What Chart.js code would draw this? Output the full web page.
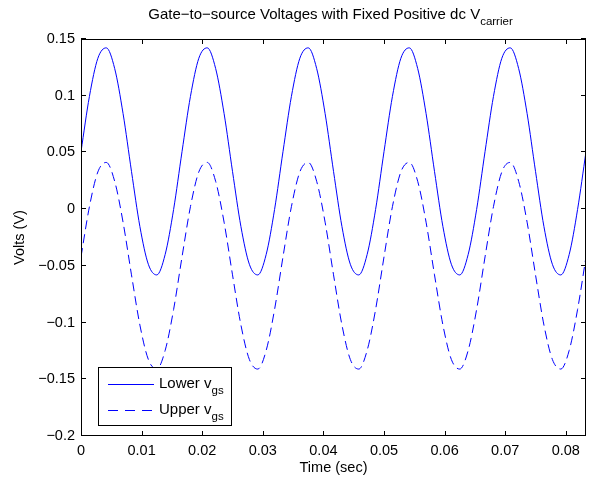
<!DOCTYPE html>
<html>
<head>
<meta charset="utf-8">
<script src="https://cdn.jsdelivr.net/npm/chart.js@4/dist/chart.umd.min.js"></script>
<style>
html,body{margin:0;padding:0;background:#fff;}
#c{display:block;}
</style>
</head>
<body>
<canvas id="c" width="592" height="479"></canvas>
<script>
// Time samples (sec)
const times = [0, 0.00139, 0.00278, 0.00417, 0.00556, 0.00694, 0.00833, 0.00972, 0.01111, 0.0125, 0.01389, 0.01528,
  0.01667, 0.01806, 0.01944, 0.02083, 0.02222, 0.02361, 0.025, 0.02639, 0.02778, 0.02917, 0.03056, 0.03194,
  0.03333, 0.03472, 0.03611, 0.0375, 0.03889, 0.04028, 0.04167, 0.04306, 0.04444, 0.04583, 0.04722, 0.04861,
  0.05, 0.05139, 0.05278, 0.05417, 0.05556, 0.05694, 0.05833, 0.05972, 0.06111, 0.0625, 0.06389, 0.06528,
  0.06667, 0.06806, 0.06944, 0.07083, 0.07222, 0.07361, 0.075, 0.07639, 0.07778, 0.07917, 0.08056, 0.08194,
  0.08333];
// Lower v_gs (V)
const lowerVgs = [0.0507, 0.0994, 0.1330, 0.1422, 0.1239, 0.0843, 0.0333, -0.0154, -0.0486, -0.0580, -0.0399, -0.0003,
  0.0507, 0.0994, 0.1330, 0.1422, 0.1239, 0.0843, 0.0333, -0.0154, -0.0486, -0.0580, -0.0399, -0.0003,
  0.0507, 0.0994, 0.1330, 0.1422, 0.1239, 0.0843, 0.0333, -0.0154, -0.0486, -0.0580, -0.0399, -0.0003,
  0.0507, 0.0994, 0.1330, 0.1422, 0.1239, 0.0843, 0.0333, -0.0154, -0.0486, -0.0580, -0.0399, -0.0003,
  0.0507, 0.0994, 0.1330, 0.1422, 0.1239, 0.0843, 0.0333, -0.0154, -0.0486, -0.0580, -0.0399, -0.0003,
  0.0507];
// Upper v_gs (V)
const upperVgs = [-0.0421, 0.0022, 0.0328, 0.0412, 0.0245, -0.0115, -0.0579, -0.1022, -0.1325, -0.1410, -0.1245, -0.0885,
  -0.0421, 0.0022, 0.0328, 0.0412, 0.0245, -0.0115, -0.0579, -0.1022, -0.1325, -0.1410, -0.1245, -0.0885,
  -0.0421, 0.0022, 0.0328, 0.0412, 0.0245, -0.0115, -0.0579, -0.1022, -0.1325, -0.1410, -0.1245, -0.0885,
  -0.0421, 0.0022, 0.0328, 0.0412, 0.0245, -0.0115, -0.0579, -0.1022, -0.1325, -0.1410, -0.1245, -0.0885,
  -0.0421, 0.0022, 0.0328, 0.0412, 0.0245, -0.0115, -0.0579, -0.1022, -0.1325, -0.1410, -0.1245, -0.0885,
  -0.0421];
// Axis limits / ticks
const xLimits = [0, 0.08333];
const xStep = 0.01;
const yLimits = [-0.2, 0.15];
const yStep = 0.05;
const seriesNames = ['Lower', 'Upper'];

const FONT = '"Liberation Sans", Arial, Helvetica, sans-serif';
const BLUE = '#0000ff';
const DASH = [9, 5];

function fmt(v) {
  let s = parseFloat(v.toFixed(3)).toString();
  return s.replace('-', '\u2212');
}

const decor = {
  id: 'decor',
  beforeDraw(chart) {
    const ctx = chart.ctx;
    ctx.save();
    ctx.fillStyle = '#fff';
    ctx.fillRect(0, 0, chart.width, chart.height);
    ctx.restore();
  },
  afterDraw(chart) {
    const ctx = chart.ctx;
    const a = chart.chartArea;
    const xs = chart.scales.x, ys = chart.scales.y;
    ctx.save();
    // frame
    ctx.strokeStyle = '#000';
    ctx.lineWidth = 1;
    ctx.strokeRect(Math.round(a.left) + 0.5, Math.round(a.top) + 0.5, Math.round(a.right - a.left) - 1, Math.round(a.bottom - a.top) - 1);
    // inward ticks
    const TL = 5;
    ctx.beginPath();
    xs.ticks.forEach(t => {
      const px = Math.round(xs.getPixelForValue(t.value)) + 0.5;
      ctx.moveTo(px, a.bottom); ctx.lineTo(px, a.bottom - TL);
      ctx.moveTo(px, a.top); ctx.lineTo(px, a.top + TL);
    });
    ys.ticks.forEach(t => {
      const py = Math.round(ys.getPixelForValue(t.value)) - 0.5;
      ctx.moveTo(a.left, py); ctx.lineTo(a.left + TL, py);
      ctx.moveTo(a.right, py); ctx.lineTo(a.right - TL, py);
    });
    ctx.stroke();

    ctx.fillStyle = '#000';
    // title with subscript
    const mainT = 'Gate\u2212to\u2212source Voltages with Fixed Positive dc V';
    const subT = 'carrier';
    ctx.font = '15px ' + FONT;
    const w1 = ctx.measureText(mainT).width;
    ctx.font = '11.5px ' + FONT;
    const w2 = ctx.measureText(subT).width;
    const cx = (a.left + a.right) / 2;
    let sx = cx - (w1 + w2) / 2 - 3;
    ctx.textBaseline = 'alphabetic';
    ctx.textAlign = 'left';
    ctx.font = '15px ' + FONT;
    ctx.fillText(mainT, sx, 19);
    ctx.font = '11.5px ' + FONT;
    ctx.fillText(subT, sx + w1, 25);

    // axis titles
    ctx.font = '14.5px ' + FONT;
    ctx.textAlign = 'center';
    ctx.fillText('Time (sec)', cx, 472);
    ctx.save();
    ctx.translate(24, (a.top + a.bottom) / 2);
    ctx.rotate(-Math.PI / 2);
    ctx.fillText('Volts (V)', 0, 0);
    ctx.restore();

    // legend
    const lx = 98.5, ly = 367.5, lw = 133, lh = 58;
    ctx.fillStyle = '#fff';
    ctx.fillRect(lx, ly, lw, lh);
    ctx.strokeStyle = '#000';
    ctx.lineWidth = 1;
    ctx.strokeRect(lx, ly, lw, lh);
    const ds = chart.data.datasets;
    const rows = [384.5, 410.5];
    ds.forEach((d, i) => {
      ctx.strokeStyle = d.borderColor;
      ctx.lineWidth = 1;
      ctx.setLineDash(d.borderDash ? [10, 7] : []);
      ctx.beginPath();
      ctx.moveTo(108, rows[i]);
      ctx.lineTo(154, rows[i]);
      ctx.stroke();
      ctx.setLineDash([]);
      ctx.fillStyle = '#000';
      ctx.textAlign = 'left';
      ctx.font = '15px ' + FONT;
      const base = seriesNames[i] + ' v';
      ctx.fillText(base, 159, rows[i] + 3);
      const bw = ctx.measureText(base).width;
      ctx.font = '11.5px ' + FONT;
      ctx.fillText('gs', 159 + bw, rows[i] + 9);
    });
    ctx.restore();
  }
};

new Chart(document.getElementById('c'), {
  type: 'line',
  data: {
    datasets: [
      {
        label: 'Lower v_gs',
        data: times.map((t, i) => ({x: t, y: lowerVgs[i]})),
        borderColor: BLUE,
        borderWidth: 1,
        pointRadius: 0,
        fill: false,
        cubicInterpolationMode: 'monotone'
      },
      {
        label: 'Upper v_gs',
        data: times.map((t, i) => ({x: t, y: upperVgs[i]})),
        borderColor: BLUE,
        borderWidth: 1,
        borderDash: DASH,
        pointRadius: 0,
        fill: false,
        cubicInterpolationMode: 'monotone'
      }
    ]
  },
  options: {
    responsive: false,
    animation: false,
    devicePixelRatio: 1,
    layout: {padding: {top: 39, right: 6, bottom: 0, left: 0}},
    plugins: {legend: {display: false}, title: {display: false}, tooltip: {enabled: false}},
    scales: {
      x: {
        type: 'linear',
        min: xLimits[0], max: xLimits[1],
        grid: {display: false, drawTicks: false},
        border: {display: false},
        ticks: {
          stepSize: xStep, includeBounds: false, autoSkip: false, maxRotation: 0,
          color: '#000', font: {size: 14.5, family: FONT}, padding: 6,
          callback: v => fmt(v)
        },
        afterFit: s => { s.height = 43; }
      },
      y: {
        type: 'linear',
        min: yLimits[0], max: yLimits[1],
        grid: {display: false, drawTicks: false},
        border: {display: false},
        ticks: {
          stepSize: yStep, includeBounds: false, autoSkip: false,
          color: '#000', font: {size: 14.5, family: FONT}, padding: 6,
          callback: v => fmt(v)
        },
        afterFit: s => { s.width = 81; }
      }
    }
  },
  plugins: [decor]
});
</script>
</body>
</html>
